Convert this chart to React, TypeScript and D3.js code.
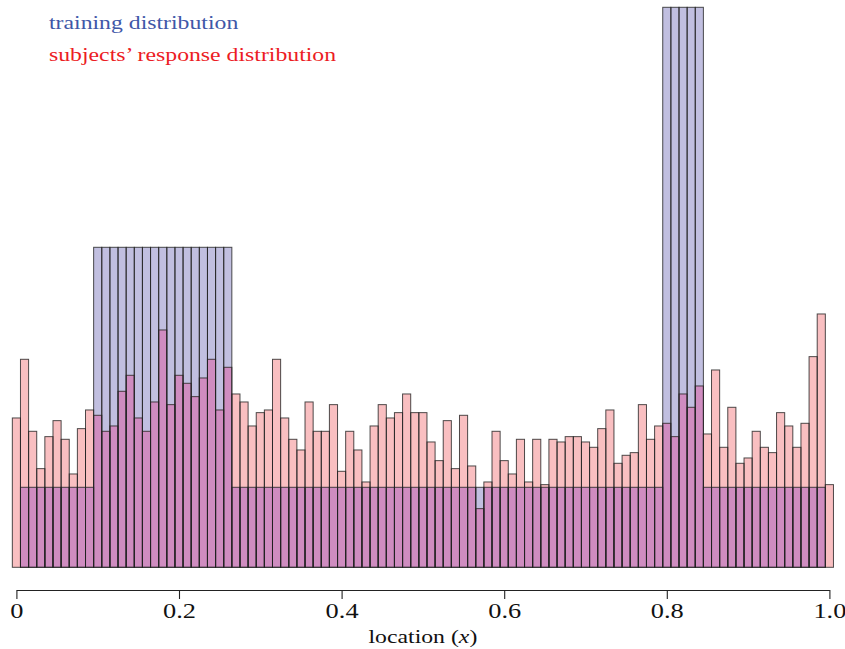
import React, { useEffect, useRef } from "react";
import * as d3 from "d3";

const W = 845;
const H = 649;

// bin centres 0, 0.01, ..., 1.00
const binCenters = d3.range(101).map(k => k / 100);

// subjects' responses (counts per bin)
const responseCounts = [
  56, 78, 51, 37, 49, 55, 48, 35, 52, 59,
  57, 51, 53, 66, 72, 56, 51, 62, 89, 61,
  72, 69, 64, 71, 78, 59, 75, 65, 62, 53,
  58, 59, 78, 56, 48, 44, 62, 51, 51, 61,
  36, 51, 44, 32, 53, 61, 56, 58, 65, 58,
  58, 47, 40, 55, 37, 57, 38, 22, 32, 51,
  40, 35, 48, 32, 48, 31, 48, 47, 49, 49,
  47, 45, 52, 59, 39, 42, 43, 61, 48, 53,
  54, 49, 65, 60, 68, 50, 74, 45, 60, 39,
  41, 51, 45, 43, 58, 53, 45, 54, 79, 95,
  31
];

// training distribution (same units): low level, the 0.10-0.26 block, the 0.80-0.84 spike
const trainingLevels = [30, 120, 210];
const trainingCounts = binCenters.map((c, k) => {
  if (k === 0 || k === 100) return 0;
  if (k >= 10 && k <= 26) return trainingLevels[1];
  if (k >= 80 && k <= 84) return trainingLevels[2];
  return trainingLevels[0];
});

const tickValues = [0, 0.2, 0.4, 0.6, 0.8, 1.0];
const tickLabels = ["0", "0.2", "0.4", "0.6", "0.8", "1.0"];

const legendLabels = ["training distribution", "subjects\u2019 response distribution"];

const FONT = "'Liberation Serif', 'Times New Roman', serif";
// the original figure is stretched sideways, text included
const SX = 1.32;

const App = () => {
  const axisRef = useRef<SVGGElement>(null);

  const x = d3.scaleLinear().domain([0, 1]).range([16.4, 829.4]);
  const y = d3.scaleLinear().domain([0, 210]).range([567.3, 7.3]);
  const half = 0.005;

  useEffect(() => {
    document.body.style.margin = "0";
    const axis = d3
      .axisBottom(x)
      .tickValues(tickValues)
      .tickFormat((d, i) => tickLabels[i])
      .tickSizeInner(9)
      .tickSizeOuter(0)
      .tickPadding(5);
    const g = d3.select(axisRef.current);
    g.call(axis as any);
    g.select(".domain").attr("stroke", "#222").attr("stroke-width", 1.1);
    g.selectAll(".tick line").attr("stroke", "#222").attr("stroke-width", 1.1);
    g.selectAll(".tick text")
      .attr("font-family", FONT)
      .attr("font-size", 20)
      .attr("fill", "#111")
      .attr("transform", `scale(${SX},1)`);
  }, []);

  const bar = (k: number, v: number) => ({
    x: x(binCenters[k] - half),
    w: x(binCenters[k] + half) - x(binCenters[k] - half),
    y: y(v),
    h: y(0) - y(v)
  });

  return (
    <svg width={W} height={H} style={{ display: "block", background: "#fff" }}>
      {/* training fills */}
      <g>
        {trainingCounts.map((v, k) => {
          if (!v) return null;
          const b = bar(k, v);
          return <rect key={k} x={b.x} y={b.y} width={b.w} height={b.h} fill="#c1bfe0" />;
        })}
      </g>
      {/* response fills */}
      <g>
        {responseCounts.map((v, k) => {
          const b = bar(k, v);
          return <rect key={k} x={b.x} y={b.y} width={b.w} height={b.h} fill="#f9bfc1" />;
        })}
      </g>
      {/* overlap */}
      <g>
        {responseCounts.map((v, k) => {
          const m = Math.min(v, trainingCounts[k]);
          if (!m) return null;
          const b = bar(k, m);
          return <rect key={k} x={b.x} y={b.y} width={b.w} height={b.h} fill="#cf8cc0" />;
        })}
      </g>
      {/* outlines */}
      <g fill="none" stroke="#222" strokeOpacity={0.8} strokeWidth={1}>
        {trainingCounts.map((v, k) => {
          if (!v) return null;
          const b = bar(k, v);
          return <rect key={k} x={b.x} y={b.y} width={b.w} height={b.h} />;
        })}
        {responseCounts.map((v, k) => {
          const b = bar(k, v);
          return <rect key={k} x={b.x} y={b.y} width={b.w} height={b.h} />;
        })}
      </g>

      <g ref={axisRef} transform="translate(0,590)" />
      <text
        transform={`translate(${x(0.5)},643) scale(${SX},1)`}
        textAnchor="middle"
        fontFamily={FONT}
        fontSize={18}
        fill="#111"
      >
        location (<tspan fontStyle="italic">x</tspan>)
      </text>

      <text transform={`translate(49,29) scale(${SX},1)`} fontFamily={FONT} fontSize={18} fill="#3f57a8">
        {legendLabels[0]}
      </text>
      <text transform={`translate(49,61) scale(${SX},1)`} fontFamily={FONT} fontSize={18} fill="#ec1c24">
        {legendLabels[1]}
      </text>
    </svg>
  );
};

export default App;
